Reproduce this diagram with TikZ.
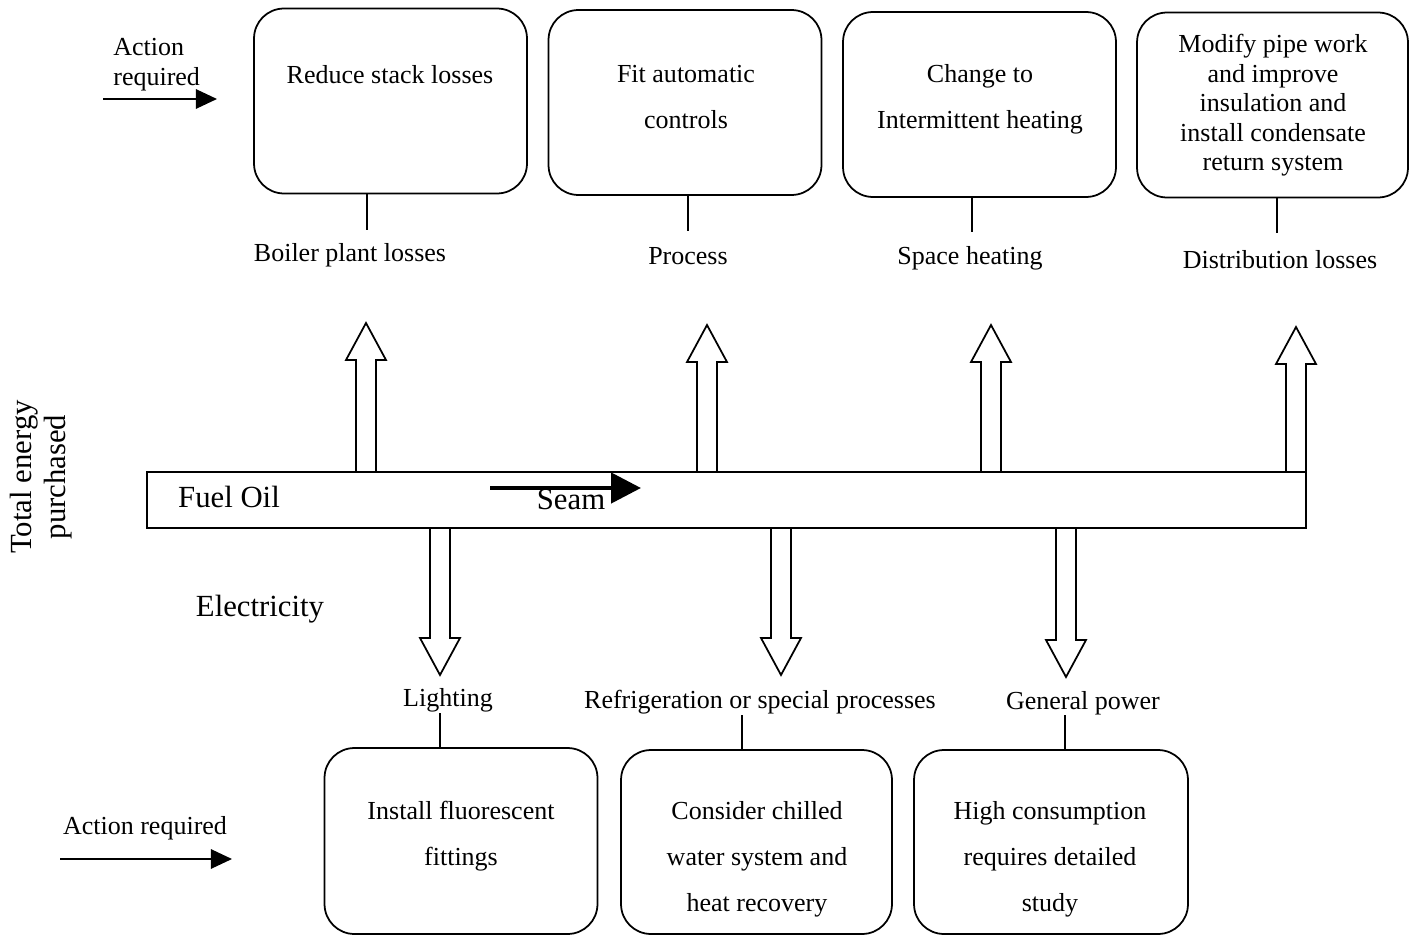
\documentclass[tikz,border=0pt]{standalone}
\usepackage{fontspec}
\setmainfont{Liberation Serif}
\usetikzlibrary{arrows.meta, positioning}

\begin{document}
\begin{tikzpicture}[
    x=0.02cm, y=-0.02cm,
    actionbox/.style={
        draw, 
        line width=1pt, 
        rounded corners=17pt, 
        inner sep=0pt, 
        minimum width=5.46cm, 
        minimum height=3.7cm
    },
    lbl/.style={
        font=\fontsize{14.8}{16.8}\selectfont, 
        align=center, 
        inner sep=0pt,
        yshift=-1.4pt
    },
    widelbl/.style={
        lbl, 
        font=\fontsize{14.8}{26.2}\selectfont
    },
    biglbl/.style={
        font=\fontsize{17.5}{19}\selectfont, 
        align=center, 
        inner sep=0pt
    },
    stem/.style={line width=1pt},
    fatarrow/.style={draw, line width=1pt, line join=miter},
    pointer/.style={
        line width=1.1pt, 
        -{Triangle[length=12pt, width=11pt]}
    },
    seamarrow/.style={
        line width=2.6pt, 
        -{Triangle[length=17pt, width=17pt]}
    }
]
    \useasboundingbox (0,0) rectangle (1410,936);

    % upper action boxes
    \node (b1) [actionbox] at (390.5,101) {};
    \node (b2) [actionbox] at (685,102.5) {};
    \node (b3) [actionbox] at (979.5,104.5) {};
    \node (b4) [actionbox, minimum width=5.42cm] at (1272.5,105) {};

    \node (t1) [lbl] at (390,72) {Reduce stack losses};
    \node (t2) [widelbl] at (686,95) {Fit automatic\\controls};
    \node (t3) [widelbl] at (980,97) {Change to\\Intermittent heating};
    \node (t4) [lbl] at (1273,103) {Modify pipe work\\and improve\\insulation and\\install condensate\\return system};

    % uses of fuel oil
    \node (l1) [lbl] at (350,253) {Boiler plant losses};
    \node (l2) [lbl] at (688,254) {Process};
    \node (l3) [lbl] at (970,256) {Space heating};
    \node (l4) [lbl] at (1280,257) {Distribution losses};

    \coordinate (s1) at (367,230);
    \coordinate (s2) at (688,231);
    \coordinate (s3) at (972,232);
    \coordinate (s4) at (1277,233);
    \draw[stem] (b1.south -| s1) -- (s1);
    \draw[stem] (b2.south -| s2) -- (s2);
    \draw[stem] (b3.south -| s3) -- (s3);
    \draw[stem] (b4.south -| s4) -- (s4);

    % hollow arrows out of the energy bar
    \foreach \x/\t in {366/323, 707/325, 991/325, 1296/327}
        \draw[fatarrow] ({\x-10},472) -- ({\x-10},{\t+37}) -- ({\x-20},{\t+37}) -- (\x,\t)
            -- ({\x+20},{\t+37}) -- ({\x+10},{\t+37}) -- ({\x+10},472);
    \foreach \x/\t in {440/675, 781/675, 1066/677}
        \draw[fatarrow] ({\x-10},528) -- ({\x-10},{\t-37}) -- ({\x-20},{\t-37}) -- (\x,\t)
            -- ({\x+20},{\t-37}) -- ({\x+10},{\t-37}) -- ({\x+10},528);

    % energy bar
    \node (bar) [draw, line width=1pt, inner sep=0pt, minimum width=23.18cm, minimum height=1.12cm] at (726.5,500) {};
    \node (fuel) [biglbl] at (229,497) {Fuel Oil};
    \node (seam) [biglbl] at (571,499) {Seam};
    \coordinate (sa) at (490,488);
    \coordinate (sb) at (641,488);
    \draw[seamarrow] (sa) -- (sb);
    \node (elec) [biglbl] at (260,609) {Electricity};
    \node (total) [biglbl, rotate=90] at (41,477) {Total energy\\purchased};

    % uses of electricity
    \node (l5) [lbl] at (448,698) {Lighting};
    \node (l6) [lbl] at (760,700) {Refrigeration or special processes};
    \node (l7) [lbl] at (1083,701) {General power};

    % lower action boxes
    \node (b5) [actionbox, minimum height=3.72cm] at (461,841) {};
    \node (b6) [actionbox, minimum width=5.42cm, minimum height=3.68cm] at (756.5,842) {};
    \node (b7) [actionbox, minimum width=5.48cm, minimum height=3.68cm] at (1051,842) {};

    \node (t5) [widelbl] at (461,834) {Install fluorescent\\fittings};
    \node (t6) [widelbl] at (757,857) {Consider chilled\\water system and\\heat recovery};
    \node (t7) [widelbl] at (1050,857) {High consumption\\requires detailed\\study};

    \coordinate (s5) at (440,713);
    \coordinate (s6) at (742,715);
    \coordinate (s7) at (1065,715);
    \draw[stem] (s5) -- (s5 |- b5.north);
    \draw[stem] (s6) -- (s6 |- b6.north);
    \draw[stem] (s7) -- (s7 |- b7.north);

    % action required pointers
    \node (act1) [lbl, align=left, anchor=west] at (113,62) {Action\\required};
    \coordinate (p1) at (103,99);
    \coordinate (q1) at (217,99);
    \draw[pointer] (p1) -- (q1);

    \node (act2) [lbl] at (145,826) {Action required};
    \coordinate (p2) at (60,859);
    \coordinate (q2) at (232,859);
    \draw[pointer] (p2) -- (q2);

\end{tikzpicture}
\end{document}
